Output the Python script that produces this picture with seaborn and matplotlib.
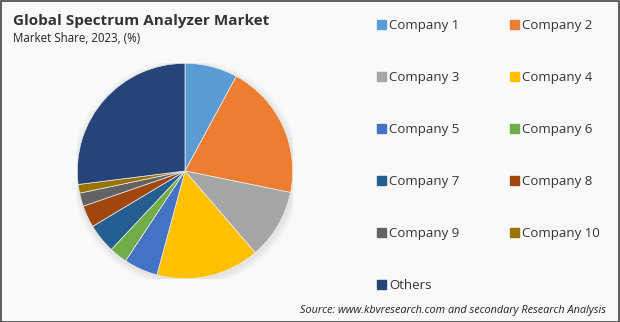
import matplotlib
matplotlib.use("Agg")
import matplotlib.pyplot as plt
import seaborn as sns
from matplotlib.patches import Rectangle, Circle

sns.set_style("white")
plt.rcParams['font.family'] = ['Open Sans', 'DejaVu Sans']

labels = ["Company 1", "Company 2", "Company 3", "Company 4", "Company 5",
          "Company 6", "Company 7", "Company 8", "Company 9", "Company 10", "Others"]
shares = [7.9, 20.3, 10.5, 15.5, 5.1, 2.7, 4.4, 3.3, 2.0, 1.3, 27.0]
colors = ["#5B9BD5", "#ED7D31", "#A5A5A5", "#FFC000", "#4472C4", "#70AD47",
          "#255E91", "#9E480E", "#636363", "#997300", "#264478"]
palette = sns.color_palette(colors)

W, H = 620, 322
fig = plt.figure(figsize=(W / 100, H / 100), dpi=100)
bg = "#F9F9F9"
fig.patch.set_facecolor(bg)

cx, cy, r = 185, 171, 107.7
ax = fig.add_axes([(cx - r) / W, (H - cy - r) / H, 2 * r / W, 2 * r / H])
ax.set_facecolor(bg)

wedges, _ = ax.pie(shares, colors=palette, startangle=90, counterclock=False,
                   radius=1.0, wedgeprops=dict(edgecolor="#EDEDED", linewidth=0.5))
for w in wedges:
    w.set_zorder(2)

# soft shadow
for i, a in enumerate([0.018, 0.016, 0.014, 0.012, 0.01, 0.008]):
    ax.add_patch(Circle((0.01, -0.02), 1.0 + 0.012 * (i + 1), color="black",
                        alpha=a, lw=0, zorder=0))

ax.set_xlim(-1.0, 1.0)
ax.set_ylim(-1.0, 1.0)
ax.set_aspect("equal")
ax.axis("off")

# legend in row-major order
order = [0, 2, 4, 6, 8, 10, 1, 3, 5, 7, 9]
handles = [Rectangle((0, 0), 1, 1, color=palette[i]) for i in order]
leg_labels = [labels[i] for i in order]
leg = fig.legend(handles, leg_labels, ncol=2, loc="upper left",
                 bbox_to_anchor=(365 / W, 1 - 7 / H), frameon=False,
                 fontsize=9.5, handlelength=0.7, handleheight=0.7,
                 handletextpad=0.25, labelspacing=2.96, columnspacing=3.8,
                 labelcolor="#333333")

fig.text(13 / W, 1 - 21 / H, "Global Spectrum Analyzer Market", fontsize=11,
         fontweight="bold", color="#333333", va="center", ha="left")
fig.text(13 / W, 1 - 39 / H, "Market Share, 2023, (%)", fontsize=8.3,
         color="#222222", va="center", ha="left")
fig.text(606 / W, 1 - 310 / H,
         "Source: www.kbvresearch.com and secondary Research Analysis",
         fontsize=7.8, style="italic", color="#222222", va="center", ha="right")

fig.add_artist(Rectangle((0.5 / W, 0.5 / H), 1 - 1.5 / W, 1 - 1.5 / H,
                         transform=fig.transFigure, fill=False,
                         edgecolor="#444444", linewidth=1.2))

fig.savefig("out.png", dpi=100, facecolor=bg)
